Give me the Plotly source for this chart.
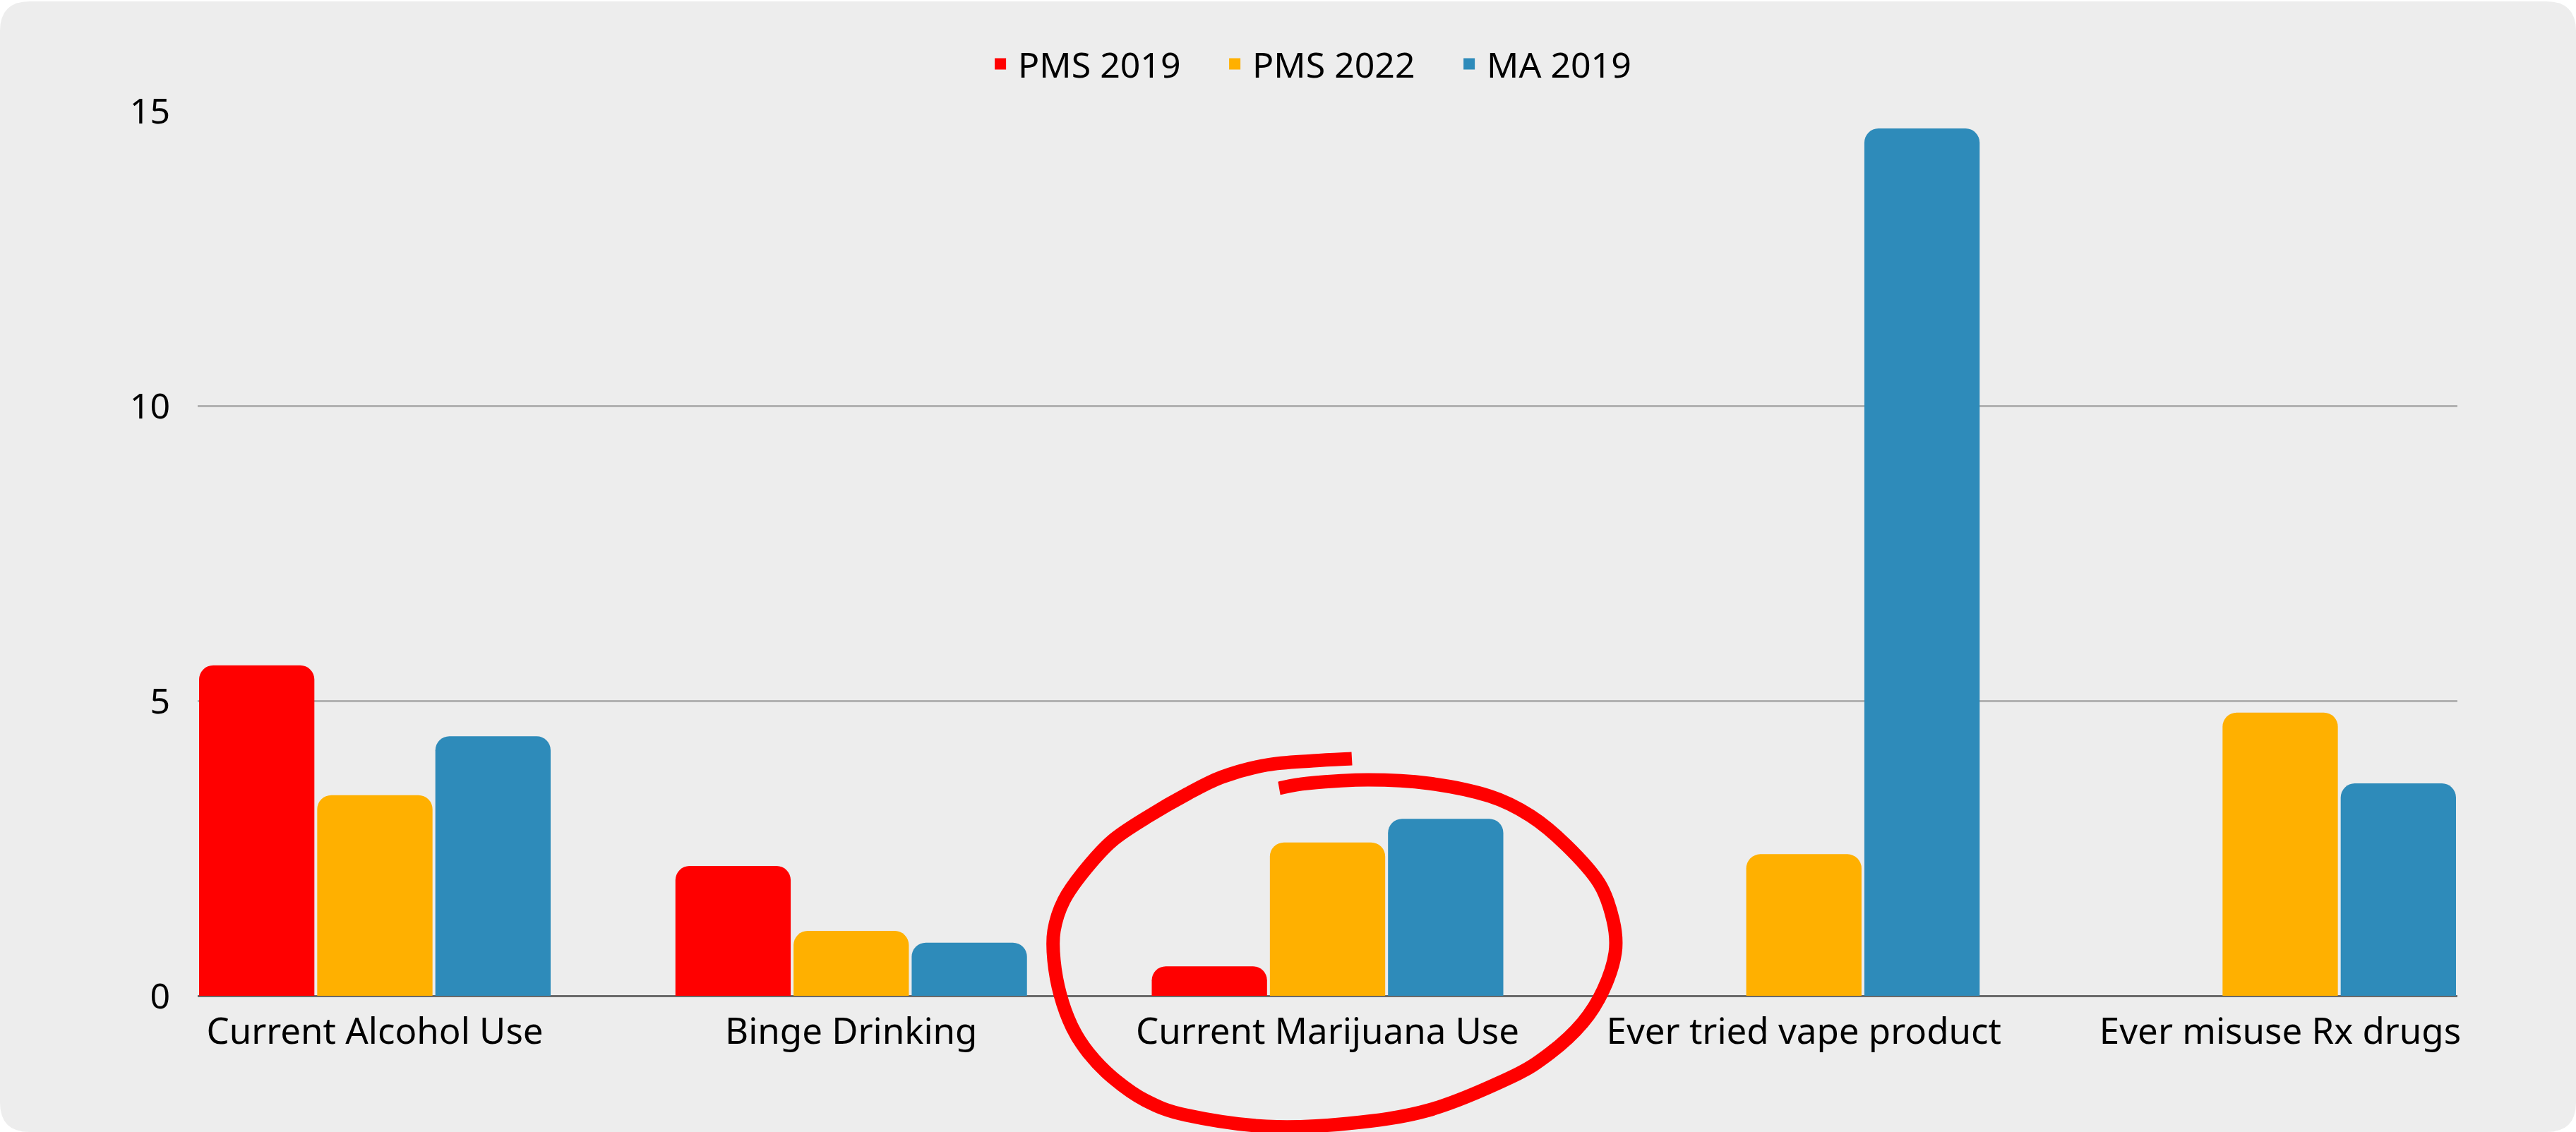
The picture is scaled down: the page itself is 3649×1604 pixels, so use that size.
import plotly.graph_objects as go

categories = ["Current Alcohol Use", "Binge Drinking", "Current Marijuana Use",
              "Ever tried vape product", "Ever misuse Rx drugs"]
pms_2019 = [5.6, 2.2, 0.5, None, None]
pms_2022 = [3.4, 1.1, 2.6, 2.4, 4.8]
ma_2019 = [4.4, 0.9, 3.0, 14.7, 3.6]
y_ticks = [0, 5, 10, 15]

series = [("PMS 2019", pms_2019, "#FF0000"),
          ("PMS 2022", pms_2022, "#FFB000"),
          ("MA 2019", ma_2019, "#2E8BBA")]

W, H = 3649, 1604
L, R, T, B = 280, 168, 157, 193
PW, PH = W - L - R, H - T - B
FONT = "Noto Sans"

fig = go.Figure()
for name, vals, col in series:
    fig.add_trace(go.Bar(x=categories, y=vals, name=name, marker_color=col,
                         marker_line_width=0, marker_cornerradius=20,
                         showlegend=False))
    fig.add_trace(go.Scatter(x=[None], y=[None], mode="markers", name=name,
                             marker=dict(symbol="square", size=18, color=col)))


def px2paper(x, y):
    return (x - L) / PW, (H - B - y) / PH


# card background with rounded corners
def rounded_rect(x0, y0, x1, y1, r):
    def P(x, y):
        a, b = px2paper(x, y)
        return f"{a:.6f},{b:.6f}"
    d = f"M {P(x0 + r, y0)} L {P(x1 - r, y0)} Q {P(x1, y0)} {P(x1, y0 + r)} "
    d += f"L {P(x1, y1 - r)} Q {P(x1, y1)} {P(x1 - r, y1)} "
    d += f"L {P(x0 + r, y1)} Q {P(x0, y1)} {P(x0, y1 - r)} "
    d += f"L {P(x0, y0 + r)} Q {P(x0, y0)} {P(x0 + r, y0)} Z"
    return d

fig.add_shape(type="path", xref="paper", yref="paper",
              path=rounded_rect(0, 2, W, H, 42), fillcolor="#EDEDED",
              line_width=0, layer="below")

# hand-drawn red circle annotation (pixel positions on the 3649x1604 canvas)
circle_pts = [(1812, 1117), (1852, 1110), (1938, 1105), (2024, 1110), (2110, 1128),
              (2168, 1156), (2219, 1198), (2265, 1251), (2285, 1304), (2288, 1350),
              (2271, 1403), (2242, 1449), (2196, 1492), (2139, 1527), (2024, 1573),
              (1909, 1592), (1794, 1596), (1680, 1580), (1622, 1559), (1576, 1527),
              (1542, 1492), (1519, 1456), (1502, 1410), (1493, 1361), (1493, 1319),
              (1507, 1276), (1536, 1234), (1576, 1191), (1628, 1156), (1680, 1126),
              (1731, 1101), (1794, 1084), (1860, 1078), (1915, 1075)]
pf = [px2paper(x, y) for x, y in circle_pts]
ext = [pf[0]] + pf + [pf[-1]]
d = f"M {pf[0][0]:.6f},{pf[0][1]:.6f}"
for i in range(1, len(ext) - 2):
    p0, p1, p2, p3 = ext[i - 1], ext[i], ext[i + 1], ext[i + 2]
    c1 = (p1[0] + (p2[0] - p0[0]) / 6, p1[1] + (p2[1] - p0[1]) / 6)
    c2 = (p2[0] - (p3[0] - p1[0]) / 6, p2[1] - (p3[1] - p1[1]) / 6)
    d += f" C {c1[0]:.6f},{c1[1]:.6f} {c2[0]:.6f},{c2[1]:.6f} {p2[0]:.6f},{p2[1]:.6f}"
fig.add_shape(type="path", xref="paper", yref="paper", path=d,
              line=dict(color="#FF0000", width=19), layer="above")

group_half = 251 / 674.75
fig.update_layout(
    width=W, height=H, autosize=False,
    margin=dict(l=L, r=R, t=T, b=B, pad=0),
    paper_bgcolor="white", plot_bgcolor="rgba(0,0,0,0)",
    barmode="group", bargap=0.256, bargroupgap=0.024,
    font=dict(family=FONT, size=50, color="black"),
    legend=dict(orientation="h", x=0.503, xanchor="center", y=1.053, yanchor="middle",
                bgcolor="rgba(0,0,0,0)", font=dict(size=50, family=FONT),
                entrywidth=277, entrywidthmode="pixels", itemwidth=40),
    xaxis=dict(range=[-group_half, 4 + group_half], showgrid=False, zeroline=False,
               showline=False, ticks="", tickfont=dict(size=51, family=FONT),
               ticklabelstandoff=16, fixedrange=True),
    yaxis=dict(range=[0, 15.0001], tickvals=y_ticks, showgrid=True, gridcolor="#B1B1B1",
               gridwidth=3, zeroline=True, zerolinecolor="#6A6A6A", zerolinewidth=3,
               showline=False, ticks="", ticklabelstandoff=38,
               tickfont=dict(size=50, family=FONT)),
)

fig.write_html("out.html", config={"displayModeBar": False},
               post_script="document.body.style.margin='0';")
